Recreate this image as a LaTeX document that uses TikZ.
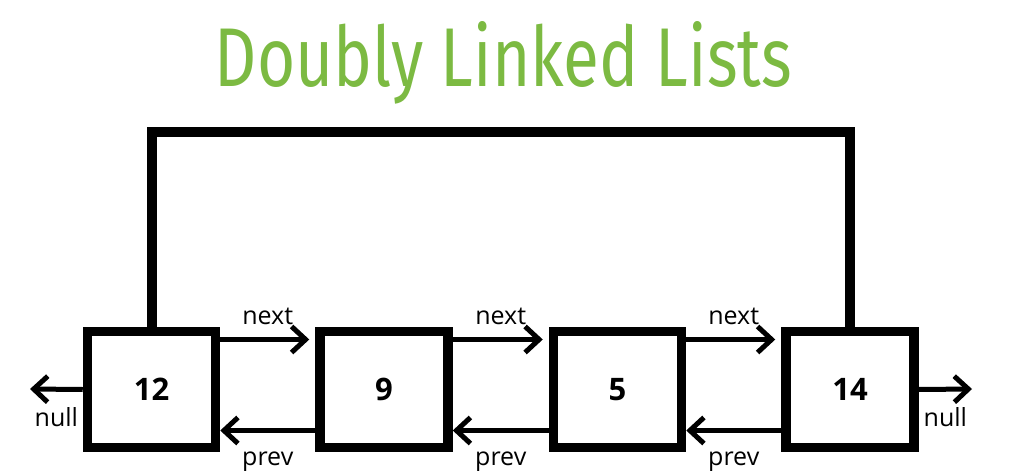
\documentclass[tikz,border=0pt]{standalone}
\usepackage{fontspec}
\setmainfont{Open Sans}
\newfontfamily\titlefont{Fira Sans}
\usetikzlibrary{arrows.meta}
\definecolor{titlegreen}{RGB}{124,186,66}
\tikzstyle{cell}=[rectangle,draw,line width=9.5pt,minimum width=128pt,minimum height=116pt,inner sep=0pt,font=\fontsize{31}{31}\selectfont\bfseries]
\tikzstyle{link} = [draw,line width=5pt,-{Straight Barb[length=14pt,width=26pt,line join=miter]}]
\tikzstyle{ring} = [draw,line width=10pt,line join=miter]
\tikzstyle{lbl} = [font=\fontsize{25}{25}\selectfont,inner sep=2pt]

\begin{document}
\begin{tikzpicture}[x=1pt,y=1pt]
        \useasboundingbox (0,0) rectangle (1025,475);
        \node[text=titlegreen,anchor=base] (title) at (503.5,388) {\resizebox{577pt}{65pt}{\titlefont Doubly Linked Lists}};
        \node[cell] (12) at (151.5, 85.5) {12};
        \node[cell] (9) at (384, 85.5) {9};
        \node[cell] (5) at (617.5, 85.5) {5};
        \node[cell] (14) at (850, 85.5) {14};
        \coordinate (nullL) at (30, 86);
        \coordinate (nullR) at (972, 86);
        % next pointers
        \path[link,shorten >=6pt] ([yshift=50pt]12.east) -- node[lbl,above=10pt] {next} ([yshift=50pt]9.west);
        \path[link,shorten >=6pt] ([yshift=50pt]9.east) -- node[lbl,above=10pt] {next} ([yshift=50pt]5.west);
        \path[link,shorten >=6pt] ([yshift=50pt]5.east) -- node[lbl,above=10pt] {next} ([yshift=50pt]14.west);
        % prev pointers
        \path[link] ([yshift=-41pt]9.west) -- node[lbl,below=17pt] {prev} ([yshift=-41pt]12.east);
        \path[link] ([yshift=-41pt]5.west) -- node[lbl,below=17pt] {prev} ([yshift=-41pt]9.east);
        \path[link] ([yshift=-41pt]14.west) -- node[lbl,below=17pt] {prev} ([yshift=-41pt]5.east);
        % null ends
        \path[link] (12.west) -- node[lbl,below=14pt] {null} (nullL);
        \path[link] (14.east) -- node[lbl,below=14pt] {null} (nullR);
        % back link from last to first
        \path[ring] (12.north) -- ++(0,195) -| (14.north);
    \end{tikzpicture}
\end{document}
